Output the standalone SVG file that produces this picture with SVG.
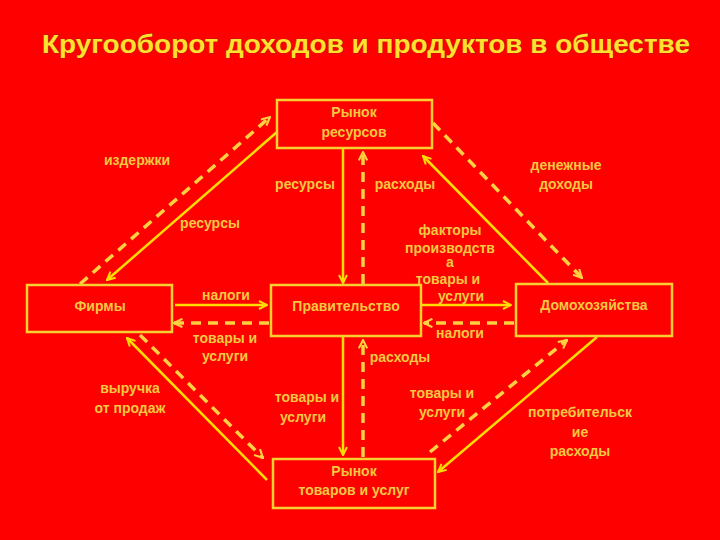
<svg xmlns="http://www.w3.org/2000/svg" width="720" height="540" viewBox="0 0 720 540">
<defs>
<style>
.bg{fill:#ff0000}
.box{fill:none;stroke:#f5d030;stroke-width:2.5}
.t{font-family:"Liberation Sans",Arial,sans-serif;font-size:14px;font-weight:bold;fill:#f5c840;text-anchor:middle}
.title{font-family:"Liberation Sans",Arial,sans-serif;font-size:25px;font-weight:bold;fill:#ffe030;stroke:#7a3000;stroke-width:0.6;paint-order:stroke}
.s{stroke:#ffdd00;stroke-width:2.5;fill:none}
.d{stroke:#ffd040;stroke-width:3.5;fill:none;stroke-dasharray:10 7}
</style>
<marker id="a" viewBox="0 0 10 10" refX="9" refY="5" markerWidth="4" markerHeight="4" orient="auto" markerUnits="strokeWidth">
<path d="M1,1 L9,5 L1,9" fill="none" stroke="#ffdd00" stroke-width="2"/>
</marker>
<marker id="ad" viewBox="0 0 10 10" refX="9" refY="5" markerWidth="3" markerHeight="3" orient="auto" markerUnits="strokeWidth">
<path d="M1,1 L9,5 L1,9" fill="none" stroke="#ffd040" stroke-width="2"/>
</marker>
</defs>
<rect class="bg" x="0" y="0" width="720" height="540"/>
<text class="title" x="42" y="53" textLength="648" lengthAdjust="spacingAndGlyphs">Кругооборот доходов и продуктов в обществе</text>

<g id="connectors">
<line class="d" x1="80" y1="284" x2="270" y2="117" marker-end="url(#ad)"/>
<line class="s" x1="277" y1="132" x2="107" y2="280" marker-end="url(#a)"/>
<line class="s" x1="343" y1="149" x2="343" y2="283" marker-end="url(#a)"/>
<line class="d" x1="363" y1="284" x2="363" y2="152" marker-end="url(#ad)"/>
<line class="d" x1="433" y1="123" x2="582" y2="278" marker-end="url(#ad)"/>
<line class="s" x1="548" y1="283" x2="423" y2="156" marker-end="url(#a)"/>
<line class="s" x1="175" y1="305" x2="267" y2="305" marker-end="url(#a)"/>
<line class="d" x1="269" y1="323" x2="174" y2="323" marker-end="url(#ad)"/>
<line class="s" x1="422" y1="305" x2="511" y2="305" marker-end="url(#a)"/>
<line class="d" x1="514" y1="323" x2="424" y2="323" marker-end="url(#ad)"/>
<line class="s" x1="343" y1="337" x2="343" y2="455" marker-end="url(#a)"/>
<line class="d" x1="363" y1="457" x2="363" y2="340" marker-end="url(#ad)"/>
<line class="s" x1="267" y1="480" x2="127" y2="338" marker-end="url(#a)"/>
<line class="d" x1="140" y1="335" x2="263" y2="458" marker-end="url(#ad)"/>
<line class="d" x1="430" y1="452" x2="567" y2="340" marker-end="url(#ad)"/>
<line class="s" x1="597" y1="337" x2="438" y2="472" marker-end="url(#a)"/>
</g>

<g id="labels">
<text class="t" x="137" y="165">издержки</text>
<text class="t" x="210" y="228">ресурсы</text>
<text class="t" x="305" y="189">ресурсы</text>
<text class="t" x="405" y="189">расходы</text>
<text class="t" x="566" y="170">денежные</text>
<text class="t" x="566" y="189">доходы</text>
<text class="t" x="450" y="235">факторы</text>
<text class="t" x="450" y="253">производств</text>
<text class="t" x="450" y="267">а</text>
<text class="t" x="448" y="284">товары и</text>
<text class="t" x="461" y="301">услуги</text>
<text class="t" x="226" y="300">налоги</text>
<text class="t" x="225" y="343">товары и</text>
<text class="t" x="225" y="361">услуги</text>
<text class="t" x="460" y="338">налоги</text>
<text class="t" x="400" y="362">расходы</text>
<text class="t" x="307" y="402">товары и</text>
<text class="t" x="303" y="422">услуги</text>
<text class="t" x="442" y="398">товары и</text>
<text class="t" x="442" y="417">услуги</text>
<text class="t" x="130" y="393">выручка</text>
<text class="t" x="130" y="413">от продаж</text>
<text class="t" x="580" y="417">потребительск</text>
<text class="t" x="580" y="437">ие</text>
<text class="t" x="580" y="456">расходы</text>
</g>

<g id="rynok-resursov">
<rect class="box" x="277" y="100" width="155" height="48"/>
<text class="t" x="354" y="117">Рынок</text>
<text class="t" x="354" y="137">ресурсов</text>
</g>
<g id="firmy">
<rect class="box" x="27" y="285" width="145" height="47"/>
<text class="t" x="100" y="311">Фирмы</text>
</g>
<g id="pravitelstvo">
<rect class="box" x="271" y="285" width="150" height="51"/>
<text class="t" x="346" y="311">Правительство</text>
</g>
<g id="domohozyaistva">
<rect class="box" x="516" y="284" width="156" height="52"/>
<text class="t" x="594" y="310">Домохозяйства</text>
</g>
<g id="rynok-tovarov">
<rect class="box" x="273" y="459" width="162" height="49"/>
<text class="t" x="354" y="476">Рынок</text>
<text class="t" x="354" y="495">товаров и услуг</text>
</g>
</svg>
